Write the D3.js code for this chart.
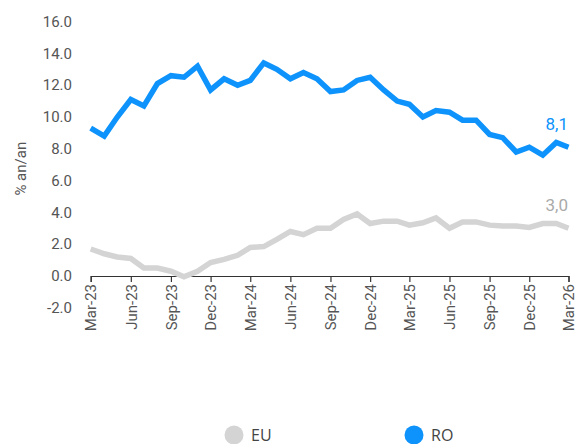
<!DOCTYPE html>
<html>
<head>
<meta charset="utf-8">
<script src="https://cdn.jsdelivr.net/npm/d3@7"></script>
<style>
  body { margin: 0; background: #fff; }
  svg { font-family: Roboto, "Noto Sans", sans-serif; }
</style>
</head>
<body>
<svg id="chart" width="575" height="444"></svg>
<script>
// luni Mar-23 .. Mar-26
const months = d3.timeMonths(new Date(2023, 2, 1), new Date(2026, 3, 1));

// inflatie anuala, % an/an (citit de pe grafic)
const roValues = [9.3, 8.8, 10.0, 11.1, 10.7, 12.1, 12.6, 12.5, 13.2, 11.7, 12.4, 12.0, 12.3,
                  13.4, 13.0, 12.4, 12.8, 12.4, 11.6, 11.7, 12.3, 12.5, 11.7, 11.0, 10.8,
                  10.0, 10.4, 10.3, 9.8, 9.8, 8.9, 8.7, 7.8, 8.1, 7.6, 8.4, 8.1];
const euValues = [1.7, 1.4, 1.2, 1.1, 0.5, 0.5, 0.3, -0.05, 0.3, 0.85, 1.05, 1.3, 1.8,
                  1.85, 2.3, 2.8, 2.6, 3.0, 3.0, 3.55, 3.9, 3.3, 3.45, 3.45, 3.2,
                  3.35, 3.65, 3.0, 3.4, 3.4, 3.2, 3.15, 3.15, 3.05, 3.3, 3.3, 3.0];
const yTicks = [-2, 0, 2, 4, 6, 8, 10, 12, 14, 16];

const series = [
  { name: "EU", values: euValues, color: "#d4d4d4", label: "3,0" },
  { name: "RO", values: roValues, color: "#0d93fb", label: "8,1" }
];

const svg = d3.select("#chart");
const fmtTick = d3.timeFormat("%b-%y");
// cratima simpla in loc de minus unicode
const fmtNum = d => d3.format(".1f")(d).replace("\u2212", "-");

const x = d3.scaleTime()
  .domain([months[0], months[months.length - 1]])
  .range([90.7, 568.5]);

const y = d3.scaleLinear()
  .domain([-2, 16])
  .range([307.8, 21.6]);

// axa y: doar etichete
svg.append("g")
  .selectAll("text")
  .data(yTicks)
  .join("text")
  .attr("x", 72)
  .attr("y", d => y(d))
  .attr("dy", "0.35em")
  .attr("text-anchor", "end")
  .attr("fill", "#555")
  .attr("font-size", 15)
  .text(d => fmtNum(d));

svg.append("text")
  .attr("transform", `translate(26,${(y(-2) + y(16)) / 2 + 4}) rotate(-90)`)
  .attr("text-anchor", "middle")
  .attr("fill", "#555")
  .attr("font-size", 15)
  .text("% an/an");

// axa x la zero
const xTicks = months.filter((d, i) => i % 3 === 0);
const xAxis = svg.append("g")
  .attr("transform", `translate(0,${y(0)})`)
  .call(d3.axisBottom(x).tickValues(xTicks).tickFormat(fmtTick).tickSizeOuter(0).tickSize(6));

xAxis.select(".domain").attr("stroke", "#333").attr("stroke-width", 1.2);
xAxis.selectAll(".tick line").attr("stroke", "#333").attr("stroke-width", 1.2);
xAxis.selectAll(".tick text")
  .attr("font-size", 15)
  .attr("font-family", "Roboto, sans-serif")
  .attr("fill", "#555")
  .attr("transform", "rotate(-90)")
  .attr("text-anchor", "end")
  .attr("x", -8)
  .attr("y", 0)
  .attr("dy", "0.35em");

// linii
const line = d3.line()
  .x((d, i) => x(months[i]))
  .y(d => y(d));

svg.append("g")
  .selectAll("path")
  .data(series)
  .join("path")
  .attr("fill", "none")
  .attr("stroke", d => d.color)
  .attr("stroke-width", 5.5)
  .attr("stroke-linejoin", "miter")
  .attr("d", d => line(d.values));

// etichete la final
svg.append("g")
  .selectAll("text")
  .data(series)
  .join("text")
  .attr("x", 568)
  .attr("y", d => y(d.values[d.values.length - 1]) - 17)
  .attr("text-anchor", "end")
  .attr("fill", d => d.name === "EU" ? "#aaa" : d.color)
  .attr("font-size", 17)
  .text(d => d.label);

// legenda
const legendX = [234, 414];
const legend = svg.append("g")
  .selectAll("g")
  .data(series)
  .join("g")
  .attr("transform", (d, i) => `translate(${legendX[i]},435)`);

legend.append("circle")
  .attr("r", 9.5)
  .attr("fill", d => d.color);

legend.append("text")
  .attr("x", 17)
  .attr("dy", "0.35em")
  .attr("fill", "#444")
  .attr("font-size", 16)
  .attr("font-family", "'Open Sans', sans-serif")
  .text(d => d.name);
</script>
</body>
</html>
